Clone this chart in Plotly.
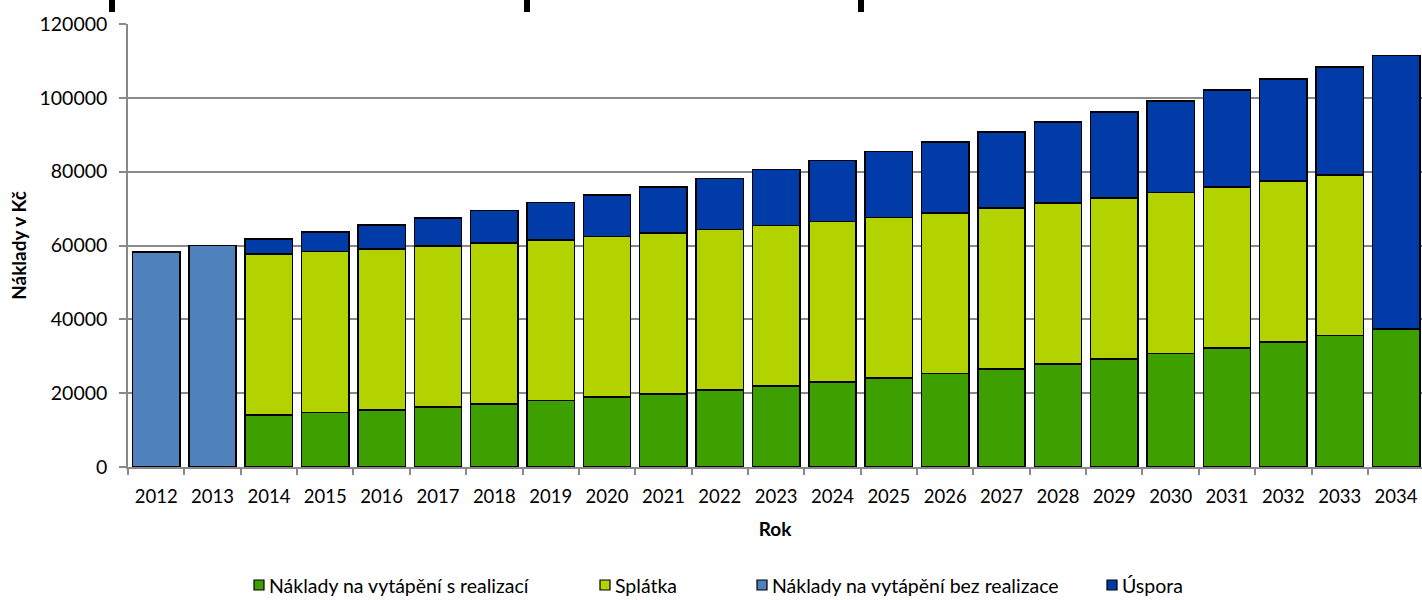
import plotly.graph_objects as go

years = [str(y) for y in range(2012, 2035)]

# Náklady na vytápění s realizací (2014-2034)
s_realizaci = [None, None, 14100, 14800, 15500, 16300, 17100, 18000, 18900, 19800, 20800,
               21900, 23000, 24100, 25300, 26600, 27900, 29300, 30800, 32300, 33900, 35600, 37400]
# Splátka
splatka = [None, None, 43550, 43550, 43550, 43550, 43550, 43550, 43550, 43550, 43550,
           43550, 43550, 43550, 43550, 43550, 43550, 43550, 43550, 43550, 43550, 43550, None]
# Náklady na vytápění bez realizace
bez_realizace = [58200, 60000] + [None] * 21
# Úspora
uspora = [None, None, 4150, 5250, 6450, 7650, 8850, 10050, 11250, 12550, 13850,
          15150, 16450, 17850, 19150, 20550, 21950, 23350, 24750, 26250, 27650, 29150, 74100]

series_names = ["Náklady na vytápění s realizací", "Splátka",
                "Náklady na vytápění bez realizace", "Úspora"]
series_colors = ["#3DA000", "#B2D300", "#4F81BD", "#003BA8"]
series_values = [s_realizaci, splatka, bez_realizace, uspora]

y_ticks = [0, 20000, 40000, 60000, 80000, 100000, 120000]

FONT = "Lato, 'Open Sans', Arial, sans-serif"
line = dict(color="#000000", width=1.5)

fig = go.Figure()
for name, color, vals in zip(series_names, series_colors, series_values):
    fig.add_trace(go.Bar(x=years, y=vals, name=name, showlegend=False,
                         marker=dict(color=color, line=line)))

L, R, T, B = 128, 0, 24, 133
W, H = 1422, 600
pw = W - L - R
ph = H - T - B

def px_x(px):
    return (px - L) / pw

def px_y(py):
    return (H - B - py) / ph

shapes = []
# clipped marks at the very top of the picture
for x0, x1 in [(109, 115), (524, 530), (858, 864)]:
    shapes.append(dict(type="rect", xref="paper", yref="paper",
                       x0=px_x(x0), x1=px_x(x1), y0=px_y(12), y1=px_y(-2),
                       fillcolor="#000000", line=dict(width=0), layer="above"))

# legend drawn as boxes + text
annotations = []
legend_box_x = [254, 600, 757, 1107]
legend_cy = 585
for bx, name, color in zip(legend_box_x, series_names, series_colors):
    shapes.append(dict(type="rect", xref="paper", yref="paper",
                       x0=px_x(bx), x1=px_x(bx + 10),
                       y0=px_y(legend_cy + 5), y1=px_y(legend_cy - 5),
                       fillcolor=color, line=dict(color="#000000", width=1.2)))
    annotations.append(dict(xref="paper", yref="paper", x=px_x(bx + 13), y=px_y(legend_cy),
                            xanchor="left", yanchor="middle", text=name, showarrow=False,
                            font=dict(family=FONT, size=19.5, color="#000000")))

fig.update_layout(
    width=W, height=H,
    barmode="stack", bargap=0.16,
    plot_bgcolor="white", paper_bgcolor="white",
    margin=dict(l=L, r=R, t=T, b=B, autoexpand=False),
    font=dict(family=FONT, size=18.5, color="#000000"),
    showlegend=False,
    shapes=shapes,
    annotations=annotations,
)
fig.update_xaxes(
    type="category", range=[-0.5, 22.46], automargin=False,
    showline=True, linecolor="#898989", linewidth=1.5,
    ticks="outside", tickson="boundaries", ticklen=6, tickcolor="#898989", tickwidth=1.5,
    ticklabelstandoff=12,
    showgrid=False,
    title=dict(text="<b>Rok</b>", font=dict(size=19), standoff=17),
    tickfont=dict(size=18.5),
)
fig.update_yaxes(
    range=[0, 120000], tickvals=y_ticks, ticktext=[str(v) for v in y_ticks],
    automargin=False,
    showline=True, linecolor="#898989", linewidth=1.5,
    ticks="outside", ticklen=7, tickcolor="#898989", tickwidth=1.5,
    ticklabelstandoff=8,
    showgrid=True, gridcolor="#898989", gridwidth=1.5,
    zeroline=False,
    title=dict(text="<b>Náklady v Kč</b>", font=dict(size=19), standoff=8),
    tickfont=dict(size=19.5),
)

fig.write_html("out.html", config={"displayModeBar": False},
               post_script="document.body.style.margin='0';document.body.style.overflow='hidden';")
